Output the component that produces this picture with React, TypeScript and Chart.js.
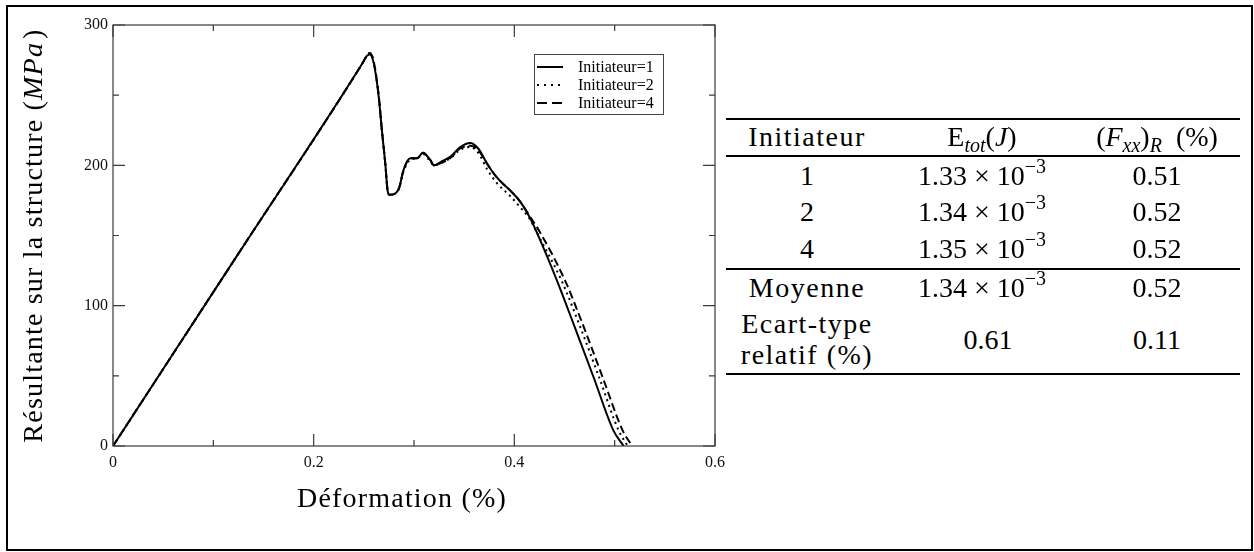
import React, { useEffect, useRef } from "react";
import { Chart, registerables } from "chart.js";

Chart.register(...registerables);

// ---- data ----
const strain1 = [0, 0.124, 0.248, 0.253, 0.256, 0.2598, 0.2648, 0.268, 0.2714, 0.2737, 0.2757, 0.2847, 0.2897, 0.2963, 0.303, 0.309, 0.316, 0.32, 0.328, 0.336, 0.346, 0.356, 0.364, 0.373, 0.383, 0.396, 0.406, 0.416, 0.4225, 0.4424, 0.459, 0.479, 0.4988, 0.509];
const stress1 = [0, 136, 272, 278, 279, 273, 249, 225, 201, 182, 179, 183, 197, 205, 205, 209, 204, 200, 203, 206, 213, 216, 212, 201, 191, 182, 174, 162, 152, 118, 87, 49, 11, 0];

const strain2 = [0, 0.124, 0.248, 0.253, 0.256, 0.2598, 0.2648, 0.268, 0.2714, 0.2737, 0.2757, 0.2847, 0.2897, 0.2963, 0.303, 0.309, 0.316, 0.32, 0.328, 0.336, 0.346, 0.356, 0.364, 0.373, 0.383, 0.396, 0.406, 0.416, 0.4225, 0.447, 0.4645, 0.4845, 0.504, 0.513];
const stress2 = [0, 136, 272, 278, 280, 274, 250, 225, 201, 182, 179, 183, 196, 204, 205, 208, 203, 200, 202, 205, 211, 213, 209, 197, 187, 178, 170, 161, 152, 118, 87, 49, 11, 0];

const strain4 = [0, 0.124, 0.248, 0.253, 0.256, 0.2598, 0.2648, 0.268, 0.2714, 0.2737, 0.2757, 0.2847, 0.2897, 0.2963, 0.303, 0.309, 0.316, 0.32, 0.328, 0.336, 0.346, 0.356, 0.364, 0.373, 0.383, 0.396, 0.406, 0.416, 0.425, 0.4505, 0.468, 0.488, 0.508, 0.5175];
const stress4 = [0, 136, 272, 278, 280, 274, 250, 225, 201, 182, 179, 183, 197, 205, 205, 209, 204, 200, 202, 205, 212, 214, 211, 201, 191, 182, 174, 163, 153, 118, 87, 49, 11, 0];

const seriesLabels = ["Initiateur=1", "Initiateur=2", "Initiateur=4"];
const xTitle = "Déformation (%)";
const yTitleParts = ["Résultante sur la structure (", "MPa", ")"];

// table data
const tableInitiators = ["1", "2", "4"];
const tableEnergyMantissa = ["1.33", "1.34", "1.35"];
const tableEnergyExponent = "−3";
const tableFxx = ["0.51", "0.52", "0.52"];
const meanLabel = "Moyenne";
const meanEnergy = "1.34";
const meanFxx = "0.52";
const stdLabel = ["Ecart-type", "relatif (%)"];
const stdEnergy = "0.61";
const stdFxx = "0.11";

const toPoints = (xs: number[], ys: number[]) => xs.map((x, i) => ({ x, y: ys[i] }));

const FRAME = "#3a3a3a";
const SERIF = "'Liberation Serif'";

const framePlugin = {
  id: "frameTicks",
  afterDatasetsDraw(chart: any) {
    const { ctx, chartArea: a, scales } = chart;
    const xs = scales.x;
    const ys = scales.y;
    ctx.save();
    ctx.strokeStyle = FRAME;
    ctx.lineWidth = 1.2;
    ctx.strokeRect(a.left, a.top, a.right - a.left, a.bottom - a.top);
    const major = 12;
    const minor = 6;
    const xv = xs.ticks.map((t: any) => t.value);
    const yv = ys.ticks.map((t: any) => t.value);
    ctx.beginPath();
    xv.forEach((v: number, i: number) => {
      const p = xs.getPixelForValue(v);
      ctx.moveTo(p, a.bottom); ctx.lineTo(p, a.bottom - major);
      ctx.moveTo(p, a.top); ctx.lineTo(p, a.top + major);
      if (i < xv.length - 1) {
        const m = xs.getPixelForValue((v + xv[i + 1]) / 2);
        ctx.moveTo(m, a.bottom); ctx.lineTo(m, a.bottom - minor);
        ctx.moveTo(m, a.top); ctx.lineTo(m, a.top + minor);
      }
    });
    yv.forEach((v: number, i: number) => {
      const p = ys.getPixelForValue(v);
      ctx.moveTo(a.left, p); ctx.lineTo(a.left + major, p);
      ctx.moveTo(a.right, p); ctx.lineTo(a.right - major, p);
      if (i < yv.length - 1) {
        const m = ys.getPixelForValue((v + yv[i + 1]) / 2);
        ctx.moveTo(a.left, m); ctx.lineTo(a.left + minor, m);
        ctx.moveTo(a.right, m); ctx.lineTo(a.right - minor, m);
      }
    });
    ctx.stroke();

    // legend box
    const bx = a.right - 181;
    const by = a.top + 29;
    const bw = 129;
    const bh = 60;
    ctx.fillStyle = "#fff";
    ctx.fillRect(bx, by, bw, bh);
    ctx.lineWidth = 1;
    ctx.strokeStyle = "#444";
    ctx.strokeRect(bx + 0.5, by + 0.5, bw, bh);
    ctx.font = `16px ${SERIF}`;
    ctx.textBaseline = "middle";
    ctx.textAlign = "left";
    chart.data.datasets.forEach((ds: any, i: number) => {
      const ly = by + 13 + i * 18;
      ctx.beginPath();
      ctx.setLineDash(ds.legendDash || []);
      ctx.strokeStyle = "#000";
      ctx.lineWidth = 2;
      ctx.moveTo(bx + 3, ly);
      ctx.lineTo(bx + 29, ly);
      ctx.stroke();
      ctx.setLineDash([]);
      ctx.fillStyle = "#000";
      ctx.fillText(ds.label, bx + 44, ly + 1);
    });

    // axis titles
    ctx.fillStyle = "#000";
    ctx.textBaseline = "middle";
    try { (ctx as any).letterSpacing = "1.2px"; } catch (e) {}
    // x title
    ctx.font = `28px ${SERIF}`;
    ctx.textAlign = "center";
    ctx.fillText(xTitle, 402, 500);
    // y title with italic unit
    ctx.textAlign = "left";
    const cx = 35;
    const cy = (a.top + a.bottom) / 2;
    const fonts = [`28px ${SERIF}`, `italic 28px ${SERIF}`, `28px ${SERIF}`];
    const widths = yTitleParts.map((t, i) => {
      ctx.font = fonts[i];
      return ctx.measureText(t).width + (i === 1 ? 3 : 0);
    });
    const total = widths.reduce((s, w) => s + w, 0);
    ctx.translate(cx, cy);
    ctx.rotate(-Math.PI / 2);
    let pos = -total / 2;
    yTitleParts.forEach((t, i) => {
      ctx.font = fonts[i];
      ctx.fillText(t, pos, 0);
      pos += widths[i];
    });
    try { (ctx as any).letterSpacing = "0px"; } catch (e) {}
    ctx.restore();
  },
};

function ChartPanel() {
  const ref = useRef<HTMLCanvasElement | null>(null);
  useEffect(() => {
    if (!ref.current) return;
    const common = {
      borderColor: "#000",
      borderWidth: 2,
      pointRadius: 0,
      fill: false,
      cubicInterpolationMode: "monotone" as const,
    };
    const chart = new Chart(ref.current, {
      type: "line",
      data: {
        datasets: [
          { ...common, label: seriesLabels[0], data: toPoints(strain1, stress1), legendDash: [] } as any,
          { ...common, label: seriesLabels[1], data: toPoints(strain2, stress2), borderDash: [2, 4], legendDash: [2, 5] } as any,
          { ...common, label: seriesLabels[2], data: toPoints(strain4, stress4), borderDash: [8, 4], legendDash: [10, 5] } as any,
        ],
      },
      options: {
        responsive: false,
        animation: false,
        layout: { padding: { top: 25, right: 25, left: 0, bottom: 0 } },
        plugins: { legend: { display: false }, tooltip: { enabled: false } },
        scales: {
          x: {
            type: "linear",
            min: 0,
            max: 0.6,
            ticks: {
              stepSize: 0.2,
              padding: 7,
              color: "#111",
              font: { family: SERIF, size: 16 },
              callback: (v: any) => String(Math.round(Number(v) * 10) / 10),
              maxRotation: 0,
            },
            grid: { display: false, drawTicks: false },
            border: { display: false },
            afterFit: (s: any) => { s.height = 106; },
          },
          y: {
            type: "linear",
            min: 0,
            max: 300,
            ticks: {
              stepSize: 100,
              padding: 5,
              color: "#111",
              font: { family: SERIF, size: 16 },
            },
            grid: { display: false, drawTicks: false },
            border: { display: false },
            afterFit: (s: any) => { s.width = 113; },
          },
        },
      },
      plugins: [framePlugin],
    });
    return () => chart.destroy();
  }, []);
  return <canvas ref={ref} width={740} height={552} style={{ position: "absolute", left: 0, top: 0 }} />;
}

const TFONT = "'Liberation Serif', serif";

function Cell({ x, y, word = false, children }: { x: number; y: number; word?: boolean; children: any }) {
  return (
    <div
      style={{
        position: "absolute",
        left: x,
        top: y,
        transform: "translate(-50%, -50%)",
        whiteSpace: "nowrap",
        lineHeight: 1.1,
        textAlign: "center",
        fontFamily: TFONT,
        fontSize: 28,
        letterSpacing: word ? "1.5px" : "0px",
        color: "#000",
      }}
    >
      {children}
    </div>
  );
}

const Sup = ({ children }: any) => (
  <span style={{ fontSize: 20, position: "relative", top: -12 }}>{children}</span>
);
const Sub = ({ children }: any) => (
  <span style={{ fontSize: 20, position: "relative", top: 6, fontStyle: "italic" }}>{children}</span>
);

function Rule({ y }: { y: number }) {
  return <div style={{ position: "absolute", left: 726, width: 514, top: y, height: 2, background: "#000" }} />;
}

function Energy({ m }: { m: string }) {
  return (
    <span>
      {m} × 10<Sup>{tableEnergyExponent}</Sup>
    </span>
  );
}

function TablePanel() {
  const cols = [807, 982, 1157];
  const rowY = [176, 212, 249];
  return (
    <>
      <Rule y={118} />
      <Rule y={155} />
      <Rule y={268} />
      <Rule y={373} />
      <Cell x={cols[0]} y={137} word>Initiateur</Cell>
      <Cell x={cols[1]} y={137}>
        <span>E<Sub>tot</Sub>(<i>J</i>)</span>
      </Cell>
      <Cell x={cols[2]} y={137}>
        <span>(<i>F</i><Sub>xx</Sub>)<Sub>R</Sub>&nbsp;&nbsp;(%)</span>
      </Cell>
      {tableInitiators.map((t, i) => (
        <React.Fragment key={t}>
          <Cell x={cols[0]} y={rowY[i]}>{t}</Cell>
          <Cell x={cols[1]} y={rowY[i]}><Energy m={tableEnergyMantissa[i]} /></Cell>
          <Cell x={cols[2]} y={rowY[i]}>{tableFxx[i]}</Cell>
        </React.Fragment>
      ))}
      <Cell x={cols[0]} y={288} word>{meanLabel}</Cell>
      <Cell x={cols[1]} y={288}><Energy m={meanEnergy} /></Cell>
      <Cell x={cols[2]} y={288}>{meanFxx}</Cell>
      <Cell x={cols[0]} y={340} word>
        <div>{stdLabel[0]}</div>
        <div>{stdLabel[1]}</div>
      </Cell>
      <Cell x={cols[1] + 6} y={340}>{stdEnergy}</Cell>
      <Cell x={cols[2]} y={340}>{stdFxx}</Cell>
    </>
  );
}

export default function App() {
  return (
    <div style={{ position: "fixed", left: 0, top: 0, width: 1254, height: 552, background: "#fff", overflow: "hidden" }}>
      <ChartPanel />
      <TablePanel />
      <div
        style={{
          position: "absolute",
          left: 6,
          top: 5,
          width: 1247,
          height: 546,
          border: "2px solid #000",
          boxSizing: "border-box",
          pointerEvents: "none",
        }}
      />
    </div>
  );
}
